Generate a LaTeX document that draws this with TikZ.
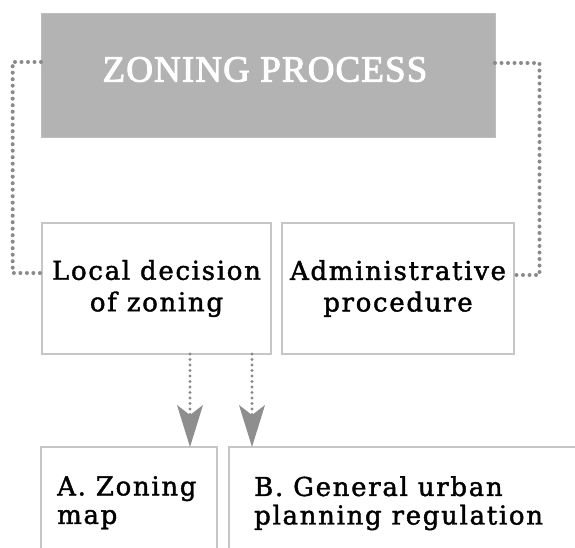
\documentclass[tikz,border=0pt]{standalone}
\usepackage{fontspec}
\usetikzlibrary{arrows.meta}
\newfontfamily\boxfont[LetterSpace=6.5,FakeBold=1.6]{DejaVu Serif}
\newfontfamily\titlefont[LetterSpace=3,FakeBold=2.5]{Liberation Serif}
\definecolor{topgray}{HTML}{B3B3B3}
\definecolor{edgegray}{HTML}{C6C6C6}
\definecolor{dotgray}{HTML}{8A8A8A}
\definecolor{arrgray}{HTML}{8E8E8E}
\begin{document}
\begin{tikzpicture}[x=1pt,y=-1pt,
  topbox/.style={fill=topgray,draw=topgray!85!white,line width=1pt,minimum width=454pt,minimum height=124pt,inner sep=0pt,outer sep=0pt},
  midbox/.style={draw=edgegray,line width=2pt,minimum height=131pt,inner sep=0pt,outer sep=0pt,align=center,font=\boxfont\fontsize{26}{31.5}\selectfont},
  lowbox/.style={draw=edgegray,line width=2pt,minimum height=160pt,inner sep=0pt,outer sep=0pt,anchor=north west},
  lowtext/.style={inner sep=0pt,anchor=north west,align=left,font=\boxfont\fontsize{26}{28.5}\selectfont},
  dotline/.style={draw=dotgray,line width=4pt,line cap=round,dash pattern=on 0pt off 6.5pt},
  arrline/.style={draw=dotgray,line width=3.2pt,line cap=round,dash pattern=on 0pt off 5.5pt,-{Stealth[length=42pt,width=26pt,inset=10pt,line width=0pt,fill=arrgray,color=arrgray]}}
  ]
\useasboundingbox (0,0) rectangle (575,547);
\node[topbox] (zp) at (268,75) {};
\node[font=\titlefont\fontsize{37}{40}\selectfont, text=white, inner sep=0pt] (zpt) at (265,69.5) {ZONING PROCESS};
\node[midbox,minimum width=229pt] (loc) at (156.5,288.5) {Local decision\\of zoning};
\node[midbox,minimum width=232pt] (adm) at (398,288.5) {Administrative\\procedure};
\begin{scope}
\clip (0,0) rectangle (575,547);
\node[lowbox,minimum width=176pt] (bA) at (41,447) {};
\node[lowbox,minimum width=360pt] (bB) at (229,447) {};
\end{scope}
\node[lowtext] (tA) at (57,476) {A. Zoning\\map};
\node[lowtext] (tB) at (254,476) {B. General urban\\planning regulation};
\coordinate (cl) at (12.7,62);
\coordinate (cl2) at (12.7,273);
\draw[dotline] (zp.west |- cl) -- (cl) -- (cl2) -- (loc.west |- cl2);
\coordinate (cr) at (539.5,63);
\coordinate (cr2) at (539.5,275);
\draw[dotline] (zp.east |- cr) -- (cr) -- (cr2) -- (adm.east |- cr2);
\coordinate (xa) at (190,0);
\coordinate (xb) at (252,0);
\draw[arrline] (loc.south -| xa) -- (bA.north -| xa);
\draw[arrline] (loc.south -| xb) -- (bB.north -| xb);
\end{tikzpicture}
\end{document}
